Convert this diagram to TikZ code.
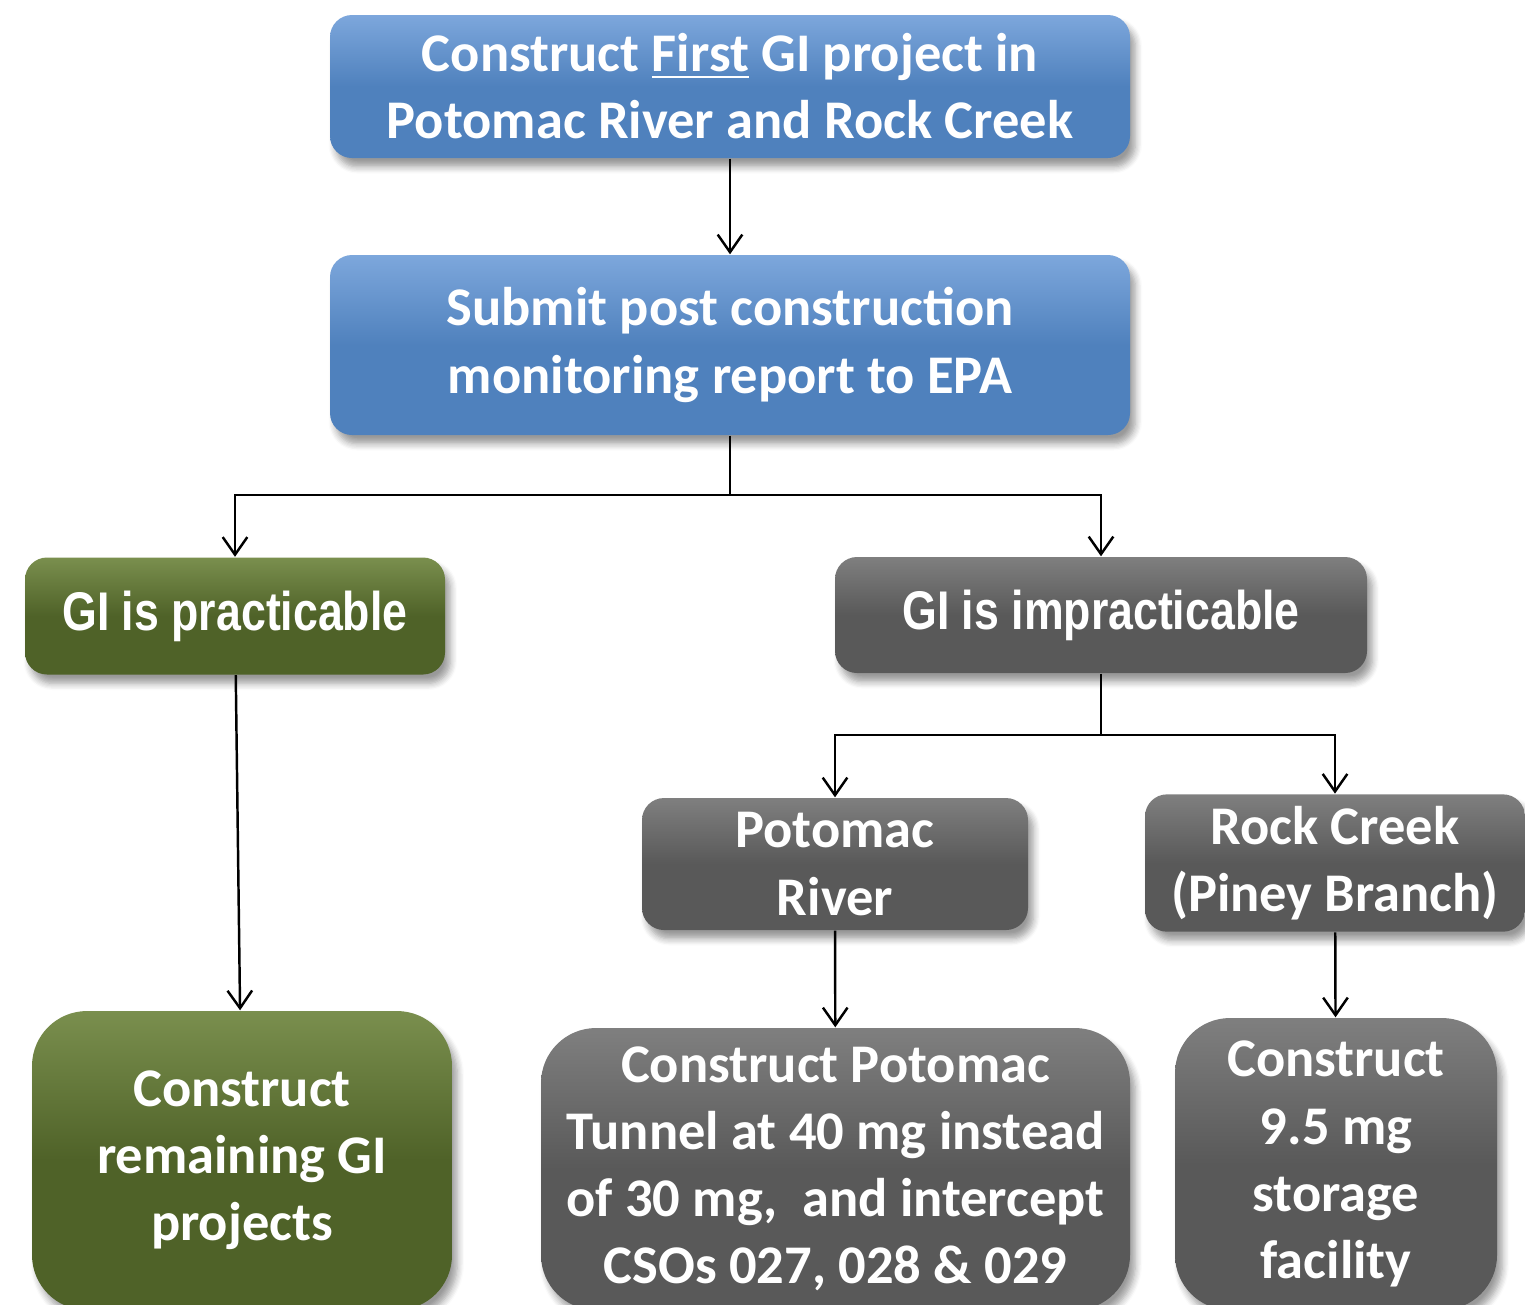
\documentclass[tikz,border=0pt]{standalone}
\usepackage{fontspec}
\setmainfont{Carlito}
\newfontfamily\arialfont[FakeStretch=0.82]{Liberation Sans}
\usetikzlibrary{arrows.meta,shadows.blur}

\definecolor{boxblue}{HTML}{4F81BD}
\definecolor{boxbluetop}{HTML}{7DA7DC}
\definecolor{boxgreen}{HTML}{4F6228}
\definecolor{boxgreentop}{HTML}{7A8F4E}
\definecolor{boxgrey}{HTML}{595959}
\definecolor{boxgreytop}{HTML}{7F7F7F}

\tikzset{
  every node/.style={text=white,align=center,
    font=\bfseries\fontsize{15.5}{19.1}\selectfont},
  box/.style={rounded corners=0.22cm,
    blur shadow={shadow xshift=1.5pt,shadow yshift=-2.5pt,shadow blur steps=6}},
  bigbox/.style={box,rounded corners=0.55cm},
  bluebox/.style={box,top color=boxbluetop,bottom color=boxblue,middle color=boxblue},
  greenbox/.style={top color=boxgreentop,bottom color=boxgreen,middle color=boxgreen},
  greybox/.style={top color=boxgreytop,bottom color=boxgrey,middle color=boxgrey},
  narrow/.style={font=\arialfont\bfseries\fontsize{15.5}{18}\selectfont},
  link/.style={line width=0.7pt,-{Straight Barb[length=5pt,width=7pt]}}
}

\begin{document}
\begin{tikzpicture}
      \useasboundingbox (0,0) rectangle (15.25,-13.04);
      \clip (0,0) rectangle (15.25,-13.04);

      \node [bluebox,minimum width=8cm,minimum height=1.43cm] (first) at (7.30,-0.865)
        {Construct \underline{First} GI project in\\Potomac River and Rock Creek};
      \node [bluebox,minimum width=8cm,minimum height=1.8cm] (submit) at (7.30,-3.45)
        {Submit post construction\\monitoring report to EPA};

      \node [box,greenbox,narrow,minimum width=4.2cm,minimum height=1.17cm] (pract) at (2.35,-6.16)
        {GI is practicable};
      \node [box,greybox,narrow,minimum width=5.32cm,minimum height=1.16cm] (impract) at (11.01,-6.15)
        {GI is impracticable};

      \node [box,greybox,minimum width=3.86cm,minimum height=1.32cm] (potomac) at (8.35,-8.64)
        {Potomac\\River};
      \node [box,greybox,minimum width=3.8cm,minimum height=1.34cm] (rock) at (13.35,-8.63)
        {Rock Creek\\(Piney Branch)};

      \node [bigbox,greenbox,minimum width=4.2cm,minimum height=2.99cm] (remain) at (2.42,-11.605)
        {Construct\\remaining GI\\projects};
      \node [bigbox,greybox,minimum width=5.89cm,minimum height=2.82cm] (tunnel) at (8.355,-11.69)
        {Construct Potomac\\Tunnel at 40 mg instead\\of 30 mg,\ \ and intercept\\CSOs 027, 028 \& 029};
      \node [bigbox,greybox,minimum width=3.22cm,minimum height=2.92cm] (storage) at (13.36,-11.64)
        {Construct\\9.5 mg\\storage\\facility};

      \coordinate (split1) at (7.30,-4.95);
      \coordinate (split2) at (11.01,-7.35);

      \draw [link] (first) -- (submit);
      \draw [line width=0.7pt] (submit) -- (split1);
      \draw [line width=0.7pt] (impract) -- (split2);
      \foreach \from/\to in {split1/pract,split1/impract,split2/potomac,split2/rock}
        \draw [link] (\from) -| (\to);
      \foreach \from/\to in {pract/remain,potomac/tunnel,rock/storage}
        \draw [link] (\from) -- (\to);
    \end{tikzpicture}
\end{document}
